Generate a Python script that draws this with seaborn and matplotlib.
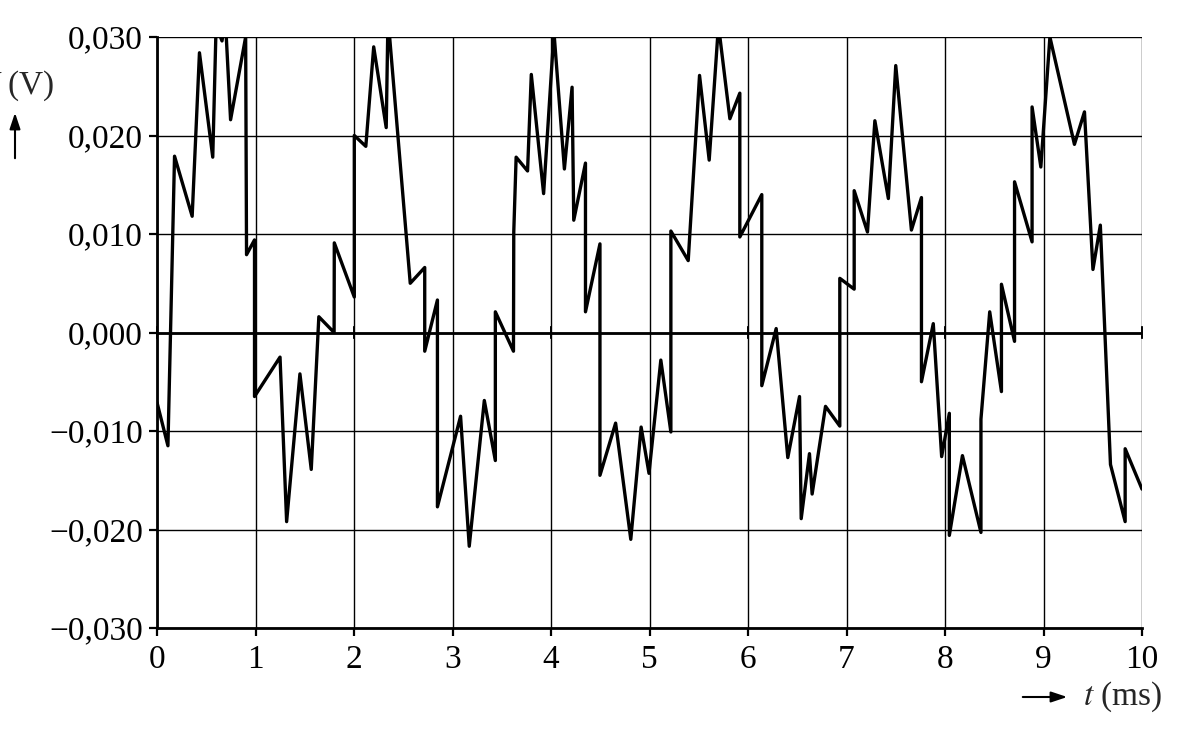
import numpy as np
import pandas as pd
import matplotlib
matplotlib.use("Agg")
import matplotlib.pyplot as plt
import seaborn as sns

# ---- data ----
t_ms = [0.000, 0.111, 0.178, 0.357, 0.431, 0.566, 0.600, 0.660, 0.693, 0.747,
        0.900, 0.909, 0.990, 0.990, 1.249, 1.316, 1.451, 1.566, 1.643, 1.798,
        1.800, 2.003, 2.003, 2.120, 2.200, 2.327, 2.345, 2.571, 2.718, 2.718,
        2.847, 2.847, 3.082, 3.170, 3.323, 3.435, 3.435, 3.619, 3.622, 3.646,
        3.762, 3.800, 3.925, 4.030, 4.136, 4.214, 4.231, 4.350, 4.350, 4.497,
        4.497, 4.656, 4.810, 4.915, 4.995, 5.115, 5.217, 5.217, 5.393, 5.508,
        5.606, 5.700, 5.816, 5.917, 5.917, 6.140, 6.140, 6.286, 6.404, 6.523,
        6.540, 6.624, 6.651, 6.787, 6.932, 6.932, 7.078, 7.078, 7.213, 7.288,
        7.425, 7.500, 7.659, 7.761, 7.761, 7.881, 7.966, 8.044, 8.044, 8.177,
        8.365, 8.365, 8.454, 8.573, 8.573, 8.706, 8.706, 8.884, 8.884, 8.973,
        9.065, 9.314, 9.416, 9.502, 9.577, 9.680, 9.829, 9.829, 10.000]
u_volt = [-0.0071, -0.0115, 0.0179, 0.0118, 0.0284, 0.0178, 0.0312, 0.0296, 0.0320, 0.0216,
          0.0300, 0.0079, 0.0094, -0.0065, -0.0025, -0.0192, -0.0042, -0.0139, 0.0016, 0.0000,
          0.0091, 0.0036, 0.0200, 0.0189, 0.0290, 0.0208, 0.0320, 0.0050, 0.0066, -0.0019,
          0.0033, -0.0177, -0.0085, -0.0217, -0.0069, -0.0130, 0.0021, -0.0019, 0.0102, 0.0178,
          0.0164, 0.0262, 0.0141, 0.0305, 0.0166, 0.0249, 0.0114, 0.0172, 0.0021, 0.0090,
          -0.0145, -0.0092, -0.0210, -0.0096, -0.0143, -0.0028, -0.0101, 0.0103, 0.0073, 0.0261,
          0.0175, 0.0312, 0.0217, 0.0243, 0.0097, 0.0140, -0.0054, 0.0004, -0.0127, -0.0065,
          -0.0189, -0.0123, -0.0164, -0.0075, -0.0095, 0.0055, 0.0044, 0.0144, 0.0102, 0.0215,
          0.0136, 0.0271, 0.0104, 0.0137, -0.0050, 0.0009, -0.0126, -0.0082, -0.0206, -0.0125,
          -0.0203, -0.0088, 0.0021, -0.0060, 0.0049, -0.0009, 0.0153, 0.0092, 0.0229, 0.0168,
          0.0300, 0.0191, 0.0224, 0.0064, 0.0109, -0.0134, -0.0192, -0.0118, -0.0159]

x_ticks = [0, 1, 2, 3, 4, 5, 6, 7, 8, 9, 10]
x_tick_labels = ["0", "1", "2", "3", "4", "5", "6", "7", "8", "9", "10"]
y_ticks = [-0.030, -0.020, -0.010, 0.000, 0.010, 0.020, 0.030]
y_tick_labels = ["\u22120,030", "\u22120,020", "\u22120,010", "0,000", "0,010", "0,020", "0,030"]
zero_axis_ticks = [0, 2, 4, 6, 8, 10]

# ---- style ----
sns.set_theme(style="white")
plt.rcParams["font.family"] = ["Liberation Serif", "DejaVu Serif"]
plt.rcParams["mathtext.fontset"] = "stix"

W, H = 1186, 740
fig = plt.figure(figsize=(W / 100, H / 100), dpi=100)
ax = fig.add_axes([157 / W, 1 - 628 / H, (1142 - 157) / W, (628 - 37) / H])

df = pd.DataFrame({"t": t_ms, "u": u_volt})
sns.lineplot(data=df, x="t", y="u", ax=ax, color="black", lw=2.4,
             sort=False, estimator=None, zorder=5)

ax.set_xlim(0, 10)
ax.set_ylim(-0.030, 0.030)
ax.set_xticks(x_ticks)
ax.set_xticklabels(x_tick_labels)
ax.set_yticks(y_ticks)
ax.set_yticklabels(y_tick_labels)
ax.set_xlabel("")
ax.set_ylabel("")

ax.grid(True, color="black", lw=1.0)
for s in ["top", "right"]:
    ax.spines[s].set_visible(False)
for s in ["left", "bottom"]:
    ax.spines[s].set_linewidth(2.0)
    ax.spines[s].set_color("black")
    ax.spines[s].set_zorder(6)

ax.tick_params(axis="both", direction="out", length=6, width=1.6,
               colors="black", labelsize=24)
ax.tick_params(axis="y", pad=4, left=True)
ax.tick_params(axis="x", pad=6, bottom=True)

# thicker zero line with its own small ticks
ax.axhline(0, color="black", lw=2.0, zorder=4)
sec = ax.secondary_xaxis(0.5)
sec.set_xticks(zero_axis_ticks)
for s in sec.spines.values():
    s.set_visible(False)
sec.tick_params(axis="x", direction="inout", length=8, width=1.2, colors="black",
                top=True, bottom=True, labeltop=False, labelbottom=False)

# axis labels with arrows
fig.text(54 / W, 1 - 86 / H, r"$U$ (V)", ha="right", va="center", fontsize=24)
ax.annotate("", xy=(15, H - 110), xytext=(15, H - 161), xycoords="figure pixels",
            textcoords="figure pixels",
            arrowprops=dict(arrowstyle="-|>,head_length=0.6,head_width=0.2",
                            color="black", lw=1.5, mutation_scale=16))
fig.text(1162 / W, 1 - 697 / H, r"$t$ (ms)", ha="right", va="center", fontsize=24)
ax.annotate("", xy=(1070, H - 697), xytext=(1020, H - 697), xycoords="figure pixels",
            textcoords="figure pixels",
            arrowprops=dict(arrowstyle="-|>,head_length=0.6,head_width=0.2",
                            color="black", lw=1.5, mutation_scale=16))

fig.savefig("out.png", dpi=100)
